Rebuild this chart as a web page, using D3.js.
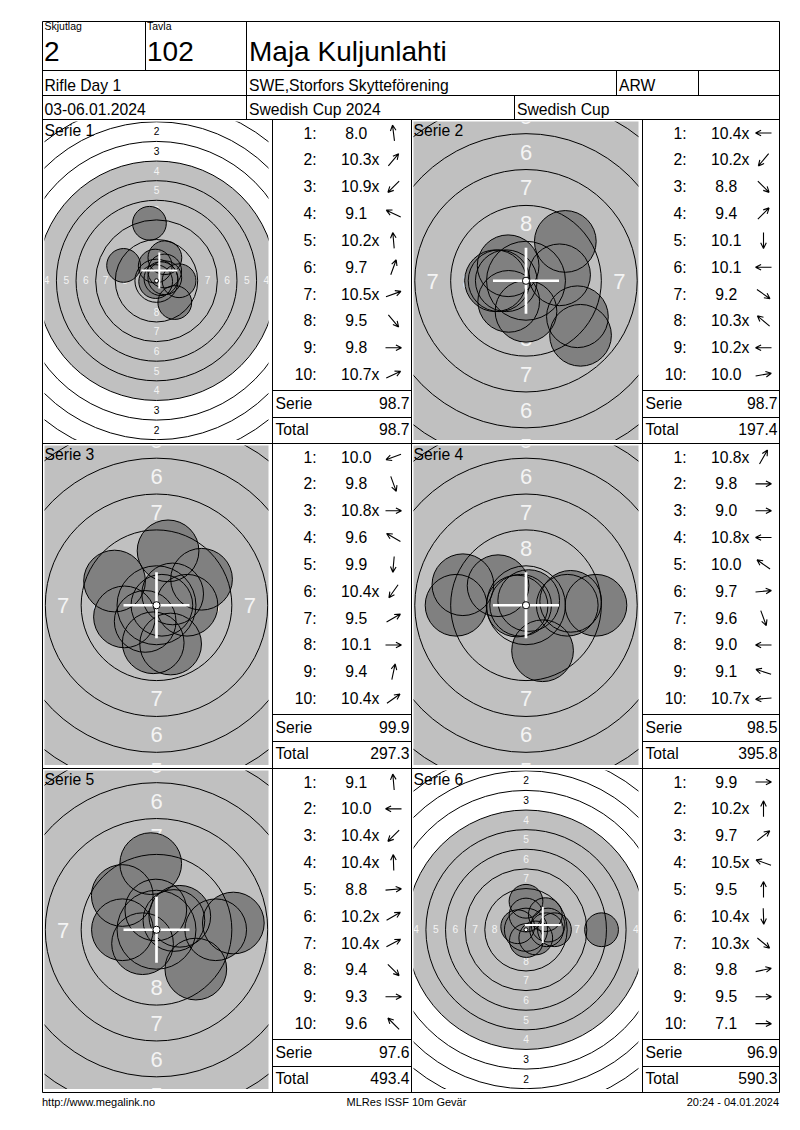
<!DOCTYPE html>
<html>
<head>
<meta charset="utf-8">
<script src="https://cdnjs.cloudflare.com/ajax/libs/d3/7.8.5/d3.min.js"></script>
<style>
body{margin:0;background:#fff;}
svg text{font-family:"Liberation Sans",Arial,sans-serif;fill:#000;}
</style>
</head>
<body>
<script>

//**************************************************************************
//** Data
//**************************************************************************
var relay = "2";
var firingPoint = "102";
var shooterName = "Maja Kuljunlahti";
var eventName = "Rifle Day 1";
var clubName = "SWE,Storfors Skytteförening";
var classCode = "ARW";
var eventDate = "03-06.01.2024";
var competition = "Swedish Cup 2024";
var cupName = "Swedish Cup";
var footerLeft = "http://www.megalink.no";
var footerMid = "MLRes ISSF 10m Gevär";
var footerRight = "20:24 - 04.01.2024";

var seriesNames = ["Serie 1", "Serie 2", "Serie 3", "Serie 4", "Serie 5", "Serie 6"];

//decimal score of each shot
var seriesScores = [
    [8.0, 10.3, 10.9, 9.1, 10.2, 9.7, 10.5, 9.5, 9.8, 10.7],
    [10.4, 10.2, 8.8, 9.4, 10.1, 10.1, 9.2, 10.3, 10.2, 10.0],
    [10.0, 9.8, 10.8, 9.6, 9.9, 10.4, 9.5, 10.1, 9.4, 10.4],
    [10.8, 9.8, 9.0, 10.8, 10.0, 9.7, 9.6, 9.0, 9.1, 10.7],
    [9.1, 10.0, 10.4, 10.4, 8.8, 10.2, 10.4, 9.4, 9.3, 9.6],
    [9.9, 10.2, 9.7, 10.5, 9.5, 10.4, 10.3, 9.8, 9.5, 7.1]
];

//direction of each shot from the centre, degrees (0 = right, 90 = up)
var seriesDirections = [
    [97, 50, 225, 155, 95, 70, 20, 310, 0, 25],
    [180, 230, 315, 45, 270, 180, 325, 140, 180, 10],
    [200, 290, 0, 150, 265, 235, 30, 0, 78, 35],
    [60, 0, 0, 180, 145, 5, 290, 180, 162, 185],
    [95, 180, 225, 92, 5, 30, 28, 315, 0, 135],
    [0, 90, 38, 160, 90, 272, 320, 12, 0, 0]
];

var ringValues = [1, 2, 3, 4, 5, 6, 7, 8, 9];
var labelRings = [1, 2, 3, 4, 5, 6, 7, 8];


//**************************************************************************
//** Target geometry (ISSF 10m air rifle, mm)
//**************************************************************************
var ringRadius = function(n){ return 22.75 - 2.5*(n-1); };
var labelRadius = function(n){ return 21.5 - 2.5*(n-1); };
var blackRadius = 15.25;
var tenDot = 0.25;
var pelletRadius = 2.15;
var shotDistance = function(s){
    if (s >= 10.9) return 0.15;
    return (10.9 - s)*2.5 + 0.125;
};


//**************************************************************************
//** Layout
//**************************************************************************
var colX = [42.5, 272.5, 411.5, 642.5, 779.5];
var rowY = [119.5, 443.5, 768.5, 1092.5];
var fontSize = 15.7;

var svg = d3.select("body").append("svg")
    .attr("width", 800)
    .attr("height", 1130);

var defs = svg.append("defs");

var addText = function(g, x, y, s, size, anchor){
    return g.append("text")
        .attr("x", x)
        .attr("y", y)
        .attr("font-size", size)
        .attr("text-anchor", anchor || "start")
        .text(s);
};


//**************************************************************************
//** drawTarget
//**************************************************************************
var drawTarget = function(index, x0, y0, x1, y1){
    var scores = seriesScores[index];
    var dirs = seriesDirections[index];
    var zoomed = d3.min(scores) >= 8.5;
    var pxPerMm = zoomed ? 14.35 : 7.85;
    var labelSize = zoomed ? 22 : 10.2;

    var cx = (x0 + x1)/2, cy = (y0 + y1)/2;
    var x = d3.scaleLinear().domain([0, 1]).range([cx, cx + pxPerMm]);
    var y = d3.scaleLinear().domain([0, 1]).range([cy, cy - pxPerMm]);
    var r = function(mm){ return mm*pxPerMm; };

    var clipId = "clip" + index;
    defs.append("clipPath").attr("id", clipId)
        .append("rect")
        .attr("x", x0).attr("y", y0)
        .attr("width", x1 - x0).attr("height", y1 - y0);

    var g = svg.append("g").attr("clip-path", "url(#" + clipId + ")");

    g.append("circle")
        .attr("cx", x(0)).attr("cy", y(0))
        .attr("r", r(blackRadius))
        .attr("fill", "#c0c0c0");

    //Ring labels on four sides
    var labelData = [];
    labelRings.forEach(function(n){
        var d = labelRadius(n);
        [[0, d], [0, -d], [-d, 0], [d, 0]].forEach(function(p){
            labelData.push({n: n, x: p[0], y: p[1]});
        });
    });
    g.selectAll(".lbl").data(labelData).enter().append("text")
        .attr("x", function(d){ return x(d.x); })
        .attr("y", function(d){ return y(d.y); })
        .attr("dy", "0.36em")
        .attr("text-anchor", "middle")
        .attr("font-size", labelSize)
        .style("fill", function(d){ return labelRadius(d.n) < blackRadius ? "#f4f4f4" : "#000"; })
        .text(function(d){ return d.n; });

    //Shots
    var shots = scores.map(function(s, i){
        var d = shotDistance(s);
        var a = dirs[i]*Math.PI/180;
        return {x: d*Math.cos(a), y: d*Math.sin(a)};
    });

    g.selectAll(".shot").data(shots).enter().append("circle")
        .attr("cx", function(d){ return x(d.x); })
        .attr("cy", function(d){ return y(d.y); })
        .attr("r", r(pelletRadius))
        .attr("fill", "#808080");
    g.selectAll(".shotEdge").data(shots).enter().append("circle")
        .attr("cx", function(d){ return x(d.x); })
        .attr("cy", function(d){ return y(d.y); })
        .attr("r", r(pelletRadius))
        .attr("fill", "none")
        .attr("stroke", "#000")
        .attr("stroke-width", 1);

    //Ring lines
    g.selectAll(".ring").data(ringValues).enter().append("circle")
        .attr("cx", x(0)).attr("cy", y(0))
        .attr("r", function(n){ return r(ringRadius(n)); })
        .attr("fill", "none")
        .attr("stroke", "#000")
        .attr("stroke-width", 1);

    //Mean point of impact on the full target, aiming centre when zoomed
    var mx = zoomed ? 0 : d3.mean(shots, function(d){ return d.x; });
    var my = zoomed ? 0 : d3.mean(shots, function(d){ return d.y; });
    var arm = 2.3;
    var crossWidth = zoomed ? 2.7 : 2;
    g.append("line")
        .attr("x1", x(mx - arm)).attr("x2", x(mx + arm))
        .attr("y1", y(my)).attr("y2", y(my))
        .attr("stroke", "#fff").attr("stroke-width", crossWidth);
    g.append("line")
        .attr("x1", x(mx)).attr("x2", x(mx))
        .attr("y1", y(my - arm)).attr("y2", y(my + arm))
        .attr("stroke", "#fff").attr("stroke-width", crossWidth);

    g.append("circle")
        .attr("cx", x(0)).attr("cy", y(0))
        .attr("r", Math.max(r(tenDot), 1.8))
        .attr("fill", "#fff")
        .attr("stroke", "#000")
        .attr("stroke-width", 1);

    addText(svg, x0, y0 + 14, seriesNames[index], fontSize);
};


//**************************************************************************
//** drawTable
//**************************************************************************
var drawTable = function(index, x0, x1, top, total){
    var scores = seriesScores[index];
    var dirs = seriesDirections[index];
    var g = svg.append("g");
    var rowStep = 26.85;

    scores.forEach(function(s, i){
        var base = top + 19 + i*rowStep;
        addText(g, x0 + 44, base, (i+1) + ":", fontSize, "end");
        var label = (s < 10 ? " " : "") + s.toFixed(1) + (s >= 10.2 ? "x" : "");
        addText(g, x0 + 68.5, base, label, fontSize).style("white-space", "pre");

        g.append("path")
            .attr("transform", "translate(" + (x0 + 121) + "," + (base - 5.5) + ") rotate(" + (-dirs[i]) + ")")
            .attr("d", "M-8,0L8,0M8,0L2.4,-2.8M8,0L2.4,2.8")
            .attr("fill", "none")
            .attr("stroke", "#000")
            .attr("stroke-width", 1.1);
    });

    var serieSum = d3.sum(scores);
    var lineA = top + 271, lineB = top + 298;
    [lineA, lineB].forEach(function(ly){
        g.append("line")
            .attr("x1", x0).attr("x2", x1)
            .attr("y1", ly).attr("y2", ly)
            .attr("stroke", "#000").attr("stroke-width", 1);
    });
    addText(g, x0 + 3, lineA + 18, "Serie", fontSize);
    addText(g, x1 - 2, lineA + 18, serieSum.toFixed(1), fontSize, "end");
    addText(g, x0 + 3, lineB + 17.5, "Total", fontSize);
    addText(g, x1 - 2, lineB + 17.5, total.toFixed(1), fontSize, "end");
};


//**************************************************************************
//** Series panels
//**************************************************************************
var runningTotal = 0;
seriesScores.forEach(function(scores, i){
    runningTotal += d3.sum(scores);
    var row = Math.floor(i/2), side = i % 2;
    var tL = colX[side*2], tR = colX[side*2 + 1], tabR = colX[side*2 + 2];
    var top = rowY[row], bottom = rowY[row + 1];
    drawTarget(i, tL + 2, top + 2, tR - 4, bottom - 3.5);
    drawTable(i, tR, tabR, top, Math.round(runningTotal*10)/10);
});


//**************************************************************************
//** Grid lines
//**************************************************************************
var lines = [
    [colX[0], 21.5, colX[4], 21.5],
    [colX[0], 70.5, colX[4], 70.5],
    [colX[0], 95.5, colX[4], 95.5],
    [colX[0], rowY[0], colX[4], rowY[0]],
    [colX[0], rowY[1], colX[4], rowY[1]],
    [colX[0], rowY[2], colX[4], rowY[2]],
    [colX[0], rowY[3], colX[4], rowY[3]],
    [colX[0], 21.5, colX[0], rowY[3]],
    [colX[4], 21.5, colX[4], rowY[3]],
    [145.5, 21.5, 145.5, 70.5],
    [246.5, 21.5, 246.5, rowY[0]],
    [616.5, 70.5, 616.5, 95.5],
    [698.5, 70.5, 698.5, 95.5],
    [514.5, 95.5, 514.5, rowY[0]],
    [colX[1], rowY[0], colX[1], rowY[3]],
    [colX[2], rowY[0], colX[2], rowY[3]],
    [colX[3], rowY[0], colX[3], rowY[3]]
];
svg.selectAll(".grid").data(lines).enter().append("line")
    .attr("x1", function(d){ return d[0]; })
    .attr("y1", function(d){ return d[1]; })
    .attr("x2", function(d){ return d[2]; })
    .attr("y2", function(d){ return d[3]; })
    .attr("stroke", "#000")
    .attr("stroke-width", 1);


//**************************************************************************
//** Header and footer
//**************************************************************************
addText(svg, 44.5, 30, "Skjutlag", 10.5);
addText(svg, 147, 30, "Tavla", 10.5);
addText(svg, 44, 61, relay, 28);
addText(svg, 147, 61, firingPoint, 28);
addText(svg, 249, 61, shooterName, 28);

addText(svg, 44.5, 91, eventName, fontSize);
addText(svg, 249, 91, clubName, fontSize);
addText(svg, 619, 91, classCode, fontSize);

addText(svg, 44.5, 114.5, eventDate, fontSize);
addText(svg, 249, 114.5, competition, fontSize);
addText(svg, 517, 114.5, cupName, fontSize);

addText(svg, 42, 1106, footerLeft, 11);
addText(svg, 406.5, 1106, footerMid, 11, "middle");
addText(svg, 779, 1106, footerRight, 11, "end");

</script>
</body>
</html>
